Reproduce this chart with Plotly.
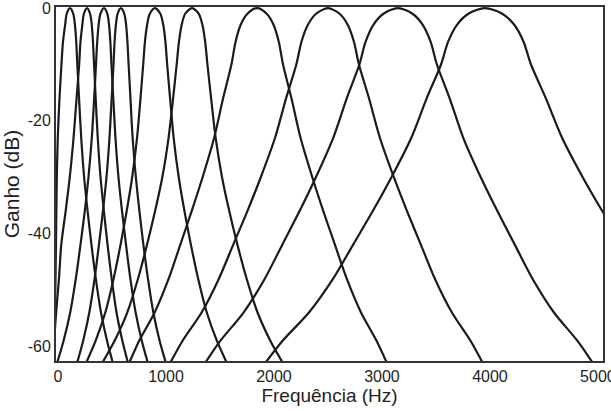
import plotly.graph_objects as go

# Gain levels (dB) at which each filter's low-side and high-side frequencies were read
gain_levels = [0, -1, -3, -6, -10, -16, -23, -30, -36, -42, -48, -54, -59, -63]

# Frequencies (Hz) on the low side and high side of each filter, one value per gain level
f1_low = [111, 81, 66, 46, 32, 14, -2, -11, -15, -19, -23, -28, -32, -37]
f1_high = [111, 141, 157, 169, 179, 195, 215, 242, 274, 310, 350, 398, 454, 509]
f2_low = [269, 240, 225, 208, 196, 172, 144, 109, 71, 30, 9, -17, -37, -56]
f2_high = [269, 297, 313, 324, 334, 349, 368, 394, 425, 459, 497, 542, 596, 649]
f3_low = [426, 393, 376, 363, 352, 335, 313, 282, 248, 208, 165, 113, 52, -9]
f3_high = [426, 457, 473, 485, 495, 512, 532, 560, 593, 630, 670, 719, 776, 833]
f4_low = [583, 552, 536, 524, 514, 497, 477, 449, 416, 379, 339, 290, 233, 176]
f4_high = [583, 614, 631, 643, 654, 671, 691, 721, 754, 791, 833, 883, 941, 1000]
f5_low = [898, 850, 825, 805, 789, 764, 732, 687, 636, 579, 515, 438, 349, 259]
f5_high = [898, 948, 975, 995, 1011, 1038, 1071, 1118, 1171, 1231, 1298, 1378, 1471, 1565]
f6_low = [1241, 1178, 1145, 1120, 1099, 1066, 1024, 966, 899, 824, 741, 641, 524, 408]
f6_high = [1241, 1304, 1338, 1363, 1384, 1418, 1460, 1519, 1586, 1662, 1747, 1848, 1966, 2084]
f7_low = [1843, 1754, 1691, 1644, 1606, 1529, 1446, 1339, 1238, 1132, 1025, 895, 752, 658]
f7_high = [1843, 1933, 1997, 2045, 2084, 2162, 2246, 2355, 2457, 2565, 2674, 2806, 2950, 3047]
f8_low = [2500, 2390, 2313, 2254, 2207, 2112, 2010, 1878, 1754, 1622, 1490, 1330, 1154, 1037]
f8_high = [2500, 2608, 2684, 2741, 2787, 2880, 2981, 3110, 3232, 3361, 3490, 3648, 3820, 3935]
f9_low = [3148, 3014, 2919, 2848, 2791, 2674, 2549, 2388, 2237, 2076, 1915, 1718, 1504, 1361]
f9_high = [3148, 3283, 3379, 3451, 3509, 3627, 3753, 3915, 4069, 4231, 4394, 4593, 4809, 4954]
f10_low = [3954, 3801, 3693, 3612, 3547, 3414, 3272, 3088, 2915, 2732, 2548, 2324, 2080, 1917]
f10_high = [3954, 4114, 4227, 4312, 4380, 4518, 4668, 4859, 5040, 5232, 5424, 5658, 5913, 6084]

filters = [
    (f1_low, f1_high), (f2_low, f2_high), (f3_low, f3_high), (f4_low, f4_high),
    (f5_low, f5_high), (f6_low, f6_high), (f7_low, f7_high), (f8_low, f8_high),
    (f9_low, f9_high), (f10_low, f10_high),
]

x_tick_vals = [0, 1000, 2000, 3000, 4000, 5000]
x_tick_text = ["0", "1000", "2000", "3000", "4000", "5000"]
y_tick_vals = [0, -20, -40, -60]
y_tick_text = ["0", "-20", "-40", "-60"]

fig = go.Figure()
for low, high in filters:
    xs = list(reversed(low)) + list(high[1:])
    ys = list(reversed(gain_levels)) + list(gain_levels[1:])
    fig.add_trace(go.Scatter(
        x=xs, y=ys, mode="lines",
        line=dict(color="#1c1a1a", width=2.2, shape="spline", smoothing=0.8),
        showlegend=False, hoverinfo="skip",
    ))

font_family = "Liberation Sans, Arial, Helvetica, sans-serif"
fig.update_layout(
    width=611, height=411,
    margin=dict(l=56, r=8, t=7, b=50),
    paper_bgcolor="white", plot_bgcolor="white",
    font=dict(family=font_family, size=16, color="#231f20"),
    showlegend=False,
)
fig.update_xaxes(
    range=[-18.5, 5047], showgrid=False, zeroline=False, automargin=False,
    showline=True, linecolor="#333333", linewidth=2, mirror=True,
    ticks="", tickvals=x_tick_vals, ticktext=x_tick_text,
    ticklabeloverflow="allow",
    tickfont=dict(size=16),
    title=dict(text="Frequência (Hz)", font=dict(size=19), standoff=4),
)
fig.update_yaxes(
    range=[-62.6, 0.2], showgrid=False, zeroline=False, automargin=False,
    showline=True, linecolor="#333333", linewidth=2, mirror=True,
    ticks="", tickvals=y_tick_vals, ticktext=y_tick_text,
    ticklabeloverflow="allow",
    tickfont=dict(size=16),
    title=dict(text="Ganho (dB)", font=dict(size=21), standoff=3),
)

fig.write_html(
    "out.html",
    config={"displayModeBar": False, "staticPlot": True},
    post_script="document.body.style.margin='0';document.body.style.overflow='hidden';",
)
